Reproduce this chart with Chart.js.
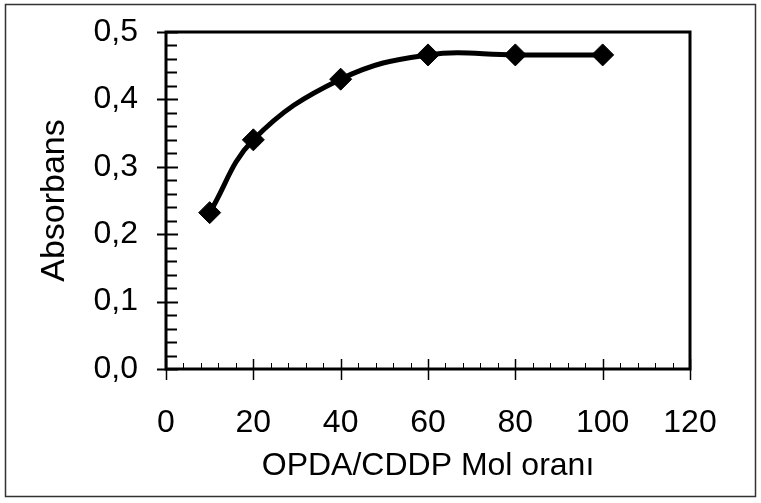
<!DOCTYPE html>
<html>
<head>
<meta charset="utf-8">
<title>Absorbans - OPDA/CDDP</title>
<script src="https://cdn.jsdelivr.net/npm/chart.js@4.4.1/dist/chart.umd.min.js"></script>
<style>
  html, body { margin: 0; padding: 0; background: #fff; }
  canvas { display: block; }
</style>
</head>
<body>
<canvas id="graphCanvas" width="761" height="503"></canvas>
<script>
// OPDA/CDDP mol ratio vs measured absorbance
const molRatio = [10, 20, 40, 60, 80, 100];
const absorbance = [0.232, 0.340, 0.430, 0.466, 0.466, 0.466];

const xTitle = 'OPDA/CDDP Mol oranı';
const yTitle = 'Absorbans';

const FONT = "Arial, 'Liberation Sans', sans-serif";

// white page, outer box, plot frame and Excel-like tick marks
const framePlugin = {
    id: 'frame',
    beforeDraw(chart) {
        const ctx = chart.ctx;
        ctx.save();
        ctx.fillStyle = '#fff';
        ctx.fillRect(0, 0, chart.width, chart.height);
        ctx.restore();
    },
    afterDraw(chart) {
        const ctx = chart.ctx;
        const a = chart.chartArea;
        const xs = chart.scales.x;
        const ys = chart.scales.y;
        ctx.save();

        ctx.strokeStyle = '#333';
        ctx.lineWidth = 1.5;
        ctx.strokeRect(5.5, 4.5, 750, 492);

        ctx.strokeStyle = '#000';
        // y ticks: majors cross the axis, minors point inward
        for (let v = 0; v <= 0.5001; v += 0.02) {
            const y = Math.round(ys.getPixelForValue(v)) + 0.5;
            const major = Math.abs(v * 10 - Math.round(v * 10)) < 1e-6;
            ctx.lineWidth = 2;
            ctx.beginPath();
            ctx.moveTo(major ? a.left - 9 : a.left, y);
            ctx.lineTo(a.left + (major ? 12 : 11), y);
            ctx.stroke();
        }
        // x ticks: majors cross the axis, minors short and thin
        for (let v = 0; v <= 120; v += 4) {
            const x = Math.round(xs.getPixelForValue(v)) + 0.5;
            const major = v % 20 === 0;
            ctx.lineWidth = major ? 1.5 : 1;
            ctx.beginPath();
            ctx.moveTo(x, major ? a.bottom + 11 : a.bottom);
            ctx.lineTo(x, a.bottom - (major ? 10 : 6));
            ctx.stroke();
        }

        ctx.lineWidth = 3;
        ctx.strokeRect(a.left, a.top, a.right - a.left, a.bottom - a.top);
        ctx.restore();
    }
};

const canvas = document.getElementById('graphCanvas');
const ctx = canvas.getContext('2d');

new Chart(ctx, {
    type: 'line',
    data: {
        datasets: [{
            data: molRatio.map((x, i) => ({ x: x, y: absorbance[i] })),
            borderColor: '#000',
            backgroundColor: '#000',
            borderWidth: 5,
            tension: 0.4,
            pointStyle: 'rectRot',
            pointRadius: 11,
            pointBorderWidth: 1,
            pointBackgroundColor: '#000',
            pointBorderColor: '#000',
            fill: false
        }]
    },
    options: {
        responsive: false,
        animation: false,
        layout: { padding: { left: 0, top: 32, right: 71, bottom: 0 } },
        plugins: {
            legend: { display: false },
            tooltip: { enabled: false }
        },
        scales: {
            x: {
                type: 'linear',
                position: 'bottom',
                min: 0,
                max: 120,
                grid: { display: false, drawTicks: false },
                border: { display: false },
                ticks: {
                    stepSize: 20,
                    padding: 35,
                    color: '#000',
                    font: { family: FONT, size: 32 },
                    maxRotation: 0
                },
                title: {
                    display: true,
                    text: xTitle,
                    color: '#000',
                    font: { family: FONT, size: 32 },
                    padding: { top: 0, bottom: 18 }
                },
                afterFit(scale) {
                    scale.height = 134;
                    scale.paddingLeft = 0;
                    scale.paddingRight = 0;
                }
            },
            y: {
                type: 'linear',
                position: 'left',
                min: 0,
                max: 0.5,
                grid: { display: false, drawTicks: false },
                border: { display: false },
                ticks: {
                    stepSize: 0.1,
                    padding: 28,
                    color: '#000',
                    font: { family: FONT, size: 32 },
                    callback: v => v.toFixed(1).replace('.', ',')
                },
                title: {
                    display: true,
                    text: yTitle,
                    color: '#000',
                    font: { family: FONT, size: 34 },
                    padding: { top: 34, bottom: 0 }
                },
                afterFit(scale) {
                    scale.width = 166;
                    scale.paddingTop = 0;
                    scale.paddingBottom = 0;
                }
            }
        }
    },
    plugins: [framePlugin]
});
</script>
</body>
</html>
